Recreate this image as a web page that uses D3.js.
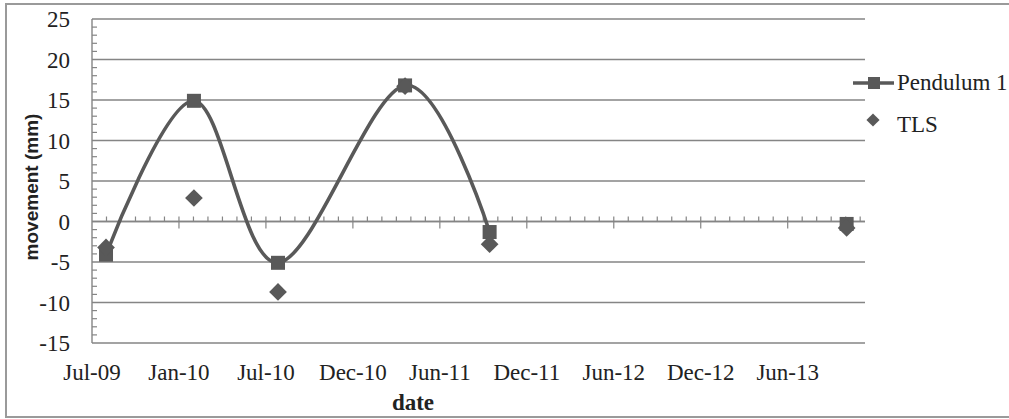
<!DOCTYPE html>
<html>
<head>
<meta charset="utf-8">
<script src="https://cdn.jsdelivr.net/npm/d3@7"></script>
<style>
  body { margin: 0; background: #fff; }
  svg { display: block; }
  .serif { font-family: "Liberation Serif", "Times New Roman", Times, "DejaVu Serif", serif; }
  .sans { font-family: "Liberation Sans", Arial, sans-serif; }
</style>
</head>
<body>
<div class="chart"></div>
<script>
// data
var pendDates = ["2009-08-05", "2010-02-03", "2010-07-27", "2011-04-16", "2011-10-08", null, "2013-10-16"];
var pendValues = [-4.1, 14.9, -5.1, 16.8, -1.3, null, -0.3];
var tlsDates = ["2009-08-05", "2010-02-03", "2010-07-27", "2011-04-16", "2011-10-08", "2013-10-16"];
var tlsValues = [-3.2, 2.9, -8.7, 16.7, -2.8, -0.8];
var xTickLabels = ["Jul-09", "Jan-10", "Jul-10", "Dec-10", "Jun-11", "Dec-11", "Jun-12", "Dec-12", "Jun-13"];
var yTicks = [-15, -10, -5, 0, 5, 10, 15, 20, 25];

var W = 1009, H = 419;
var ink = "#595959", grid = "#858585";

var parse = d3.utcParse("%Y-%m-%d");
var axisStart = parse("2009-07-07");

var svg = d3.select(".chart").append("svg")
  .attr("width", W)
  .attr("height", H);

// outer frame (right edge is off the picture)
svg.append("rect")
  .attr("x", 6).attr("y", 4)
  .attr("width", W + 10).attr("height", 413)
  .attr("fill", "none").attr("stroke", "#9a9a9a").attr("stroke-width", 2);

var x = d3.scaleUtc()
  .domain([axisStart, d3.utcDay.offset(axisStart, 1600)])
  .range([92, 865]);
var y = d3.scaleLinear().domain([-15, 25]).range([343, 19]);

// gridlines
svg.append("g").selectAll("line")
  .data(yTicks)
  .enter().append("line")
  .attr("x1", 92).attr("x2", 865)
  .attr("y1", function(d) { return y(d); })
  .attr("y2", function(d) { return y(d); })
  .attr("stroke", grid).attr("stroke-width", 1.4);

// y axis
var yAxis = svg.append("g").attr("transform", "translate(92,0)");
yAxis.append("line")
  .attr("y1", y(25)).attr("y2", y(-15))
  .attr("stroke", grid).attr("stroke-width", 1.4);
yAxis.selectAll(".minor")
  .data(d3.range(-15, 25).filter(function(v) { return v % 5 !== 0; }))
  .enter().append("line")
  .attr("x1", 0).attr("x2", 5)
  .attr("y1", function(d) { return y(d); })
  .attr("y2", function(d) { return y(d); })
  .attr("stroke", grid).attr("stroke-width", 1.2);
yAxis.selectAll("text")
  .data(yTicks)
  .enter().append("text")
  .attr("class", "serif")
  .attr("x", -22)
  .attr("y", function(d) { return y(d); })
  .attr("dy", "0.35em")
  .attr("text-anchor", "end")
  .style("font-size", "23px")
  .attr("fill", "#222")
  .text(function(d) { return d; });

// x axis at zero
var xAxis = svg.append("g").attr("transform", "translate(0," + y(0) + ")");
xAxis.append("line")
  .attr("x1", 92).attr("x2", 865)
  .attr("stroke", grid).attr("stroke-width", 1.6);
var minorDates = d3.range(0, 1600, 30).filter(function(d) { return d % 180 !== 0; })
  .map(function(d) { return d3.utcDay.offset(axisStart, d); });
xAxis.selectAll(".minor")
  .data(minorDates)
  .enter().append("line")
  .attr("x1", function(d) { return x(d); })
  .attr("x2", function(d) { return x(d); })
  .attr("y1", -5).attr("y2", 0)
  .attr("stroke", grid).attr("stroke-width", 1.2);
var majorDates = xTickLabels.map(function(l, i) { return d3.utcDay.offset(axisStart, i * 180); });
xAxis.selectAll(".major")
  .data(majorDates.slice(1))
  .enter().append("line")
  .attr("x1", function(d) { return x(d); })
  .attr("x2", function(d) { return x(d); })
  .attr("y1", -5).attr("y2", 7)
  .attr("stroke", grid).attr("stroke-width", 1.2);

svg.append("g").selectAll("text")
  .data(xTickLabels)
  .enter().append("text")
  .attr("class", "serif")
  .attr("x", function(d, i) { return x(majorDates[i]); })
  .attr("y", 380)
  .attr("text-anchor", "middle")
  .style("font-size", "23px")
  .attr("fill", "#222")
  .text(function(d) { return d; });

// axis titles
svg.append("text")
  .attr("class", "sans")
  .attr("transform", "translate(38,187) rotate(-90)")
  .attr("text-anchor", "middle")
  .style("font-weight", "bold")
  .style("font-size", "19px")
  .attr("fill", "#222")
  .text("movement (mm)");
svg.append("text")
  .attr("class", "serif")
  .attr("x", 413).attr("y", 410)
  .attr("text-anchor", "middle")
  .style("font-weight", "bold")
  .style("font-size", "23px")
  .attr("fill", "#222")
  .text("date");

// series
var pend = pendDates.map(function(d, i) { return { date: d ? parse(d) : null, v: pendValues[i] }; });
var tls = tlsDates.map(function(d, i) { return { date: parse(d), v: tlsValues[i] }; });

var line = d3.line()
  .defined(function(d) { return d.v !== null; })
  .x(function(d) { return x(d.date); })
  .y(function(d) { return y(d.v); })
  .curve(d3.curveCardinal.tension(0));

svg.append("path")
  .datum(pend)
  .attr("d", line)
  .attr("fill", "none")
  .attr("stroke", ink)
  .attr("stroke-width", 3.6);

svg.append("g").selectAll("rect")
  .data(pend.filter(function(d) { return d.v !== null; }))
  .enter().append("rect")
  .attr("x", function(d) { return x(d.date) - 7; })
  .attr("y", function(d) { return y(d.v) - 7; })
  .attr("width", 14).attr("height", 14)
  .attr("fill", ink);

var diamond = d3.symbol().type(d3.symbolDiamond2).size(200);
svg.append("g").selectAll("path")
  .data(tls)
  .enter().append("path")
  .attr("transform", function(d) { return "translate(" + x(d.date) + "," + y(d.v) + ")"; })
  .attr("d", diamond)
  .attr("fill", ink);

// legend
var legend = svg.append("g");
legend.append("line")
  .attr("x1", 853).attr("x2", 894).attr("y1", 83).attr("y2", 83)
  .attr("stroke", ink).attr("stroke-width", 3.6);
legend.append("rect")
  .attr("x", 868).attr("y", 77).attr("width", 12).attr("height", 12)
  .attr("fill", ink);
legend.append("path")
  .attr("transform", "translate(873,120)")
  .attr("d", d3.symbol().type(d3.symbolDiamond2).size(110))
  .attr("fill", ink);
legend.selectAll("text")
  .data(["Pendulum 1", "TLS"])
  .enter().append("text")
  .attr("class", "serif")
  .attr("x", 897)
  .attr("y", function(d, i) { return 90 + i * 42; })
  .style("font-size", "23px")
  .attr("fill", "#222")
  .text(function(d) { return d; });
</script>
</body>
</html>
